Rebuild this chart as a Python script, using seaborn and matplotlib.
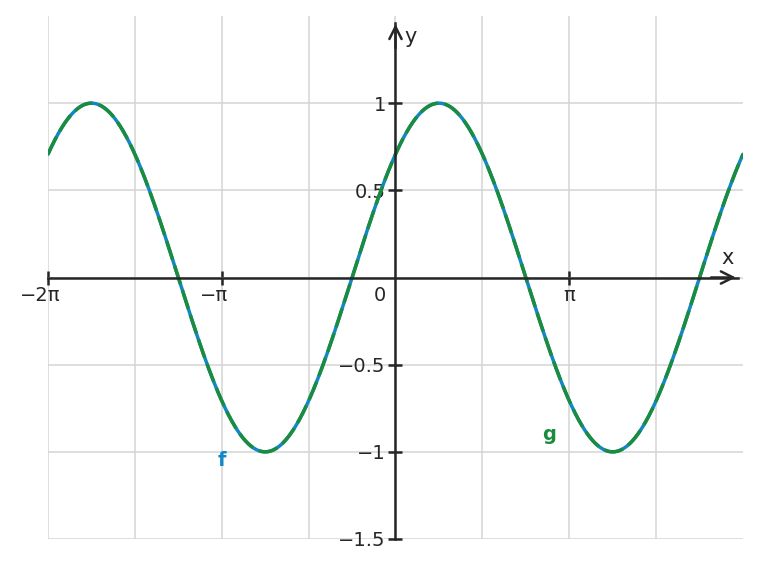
import numpy as np
import pandas as pd
import matplotlib
matplotlib.use("Agg")
import matplotlib.pyplot as plt
import matplotlib.transforms as mtransforms
import seaborn as sns

# ----------------------------
# DATA
# ----------------------------
# both curves: amplitude 1, period 2*pi, peak at x = pi/4
amplitude = 1.0
phase = np.pi / 4

x_range = (-2 * np.pi, 2 * np.pi)
y_range = (-1.5, 1.5)

x_major = [-2 * np.pi, -np.pi, np.pi]
x_labels = ["\u22122\u03c0", "\u2212\u03c0", "\u03c0"]
x_minor = [-1.5 * np.pi, -0.5 * np.pi, 0, 0.5 * np.pi, 1.5 * np.pi]

y_major = [-1.5, -1, -0.5, 0.5, 1]
y_labels = ["\u22121.5", "\u22121", "\u22120.5", "0.5", "1"]
y_minor = [0]

blue = "#1287c8"
green = "#1a8c3c"
ink = "#262626"

# curves f(x) = sin(x + pi/4) and g(x) = cos(x - pi/4), long form
xs = np.linspace(x_range[0], x_range[1], 800)
data = pd.concat([
    pd.DataFrame({"x": xs, "y": amplitude * np.sin(xs + phase), "fn": "f"}),
    pd.DataFrame({"x": xs, "y": amplitude * np.cos(xs - phase), "fn": "g"}),
], ignore_index=True)

# ----------------------------
# PLOT
# ----------------------------
sns.set_style("whitegrid")
plt.rcParams["font.family"] = ["DejaVu Sans"]
plt.rcParams["lines.scale_dashes"] = False  # dash lengths in points

fig = plt.figure(figsize=(7.61, 5.67), dpi=100)
ax = fig.add_axes([48 / 761, 28 / 567, 695 / 761, 523 / 567])

sns.lineplot(data=data, x="x", y="y", hue="fn", style="fn",
             palette={"f": blue, "g": green},
             dashes={"f": "", "g": (14, 4.6)},
             linewidth=2.5, sort=False, estimator=None, legend=False, ax=ax)

ax.set_xlim(*x_range)
ax.set_ylim(*y_range)
ax.set_xlabel("")
ax.set_ylabel("")

# axes through the origin
for side in ["top", "right"]:
    ax.spines[side].set_visible(False)
ax.spines["left"].set_position(("data", 0))
ax.spines["bottom"].set_position(("data", 0))
ax.spines["left"].set_bounds(-1.5, 1.46)
ax.spines["bottom"].set_bounds(-2 * np.pi, 1.97 * np.pi)
for side in ["left", "bottom"]:
    ax.spines[side].set_color(ink)
    ax.spines[side].set_linewidth(1.8)
    ax.spines[side].set_zorder(3)

arrow = dict(arrowstyle="->", color=ink, lw=1.8, mutation_scale=22)
ax.annotate("", xy=(1.975 * np.pi, 0), xytext=(1.8 * np.pi, 0), arrowprops=arrow, zorder=4)
ax.annotate("", xy=(0, 1.47), xytext=(0, 1.3), arrowprops=arrow, zorder=4)

# ticks and grid
ax.set_xticks(x_major)
ax.set_xticklabels(x_labels)
ax.set_xticks(x_minor, minor=True)
ax.set_yticks(y_major)
ax.set_yticklabels(y_labels)
ax.set_yticks(y_minor, minor=True)
ax.tick_params(bottom=True, left=True)
ax.tick_params(which="major", direction="inout", length=10, width=1.8,
               color=ink, labelcolor=ink, labelsize=14)
ax.tick_params(axis="x", which="major", pad=1)
ax.tick_params(axis="y", which="major", pad=2)
ax.tick_params(which="minor", length=0)
ax.grid(True, which="both", color="#d4d4d4", linewidth=1.1)
ax.set_axisbelow(True)

# let the minus sign hang to the left of the tick
shift = mtransforms.ScaledTranslation(-8 / 100, 0, fig.dpi_scale_trans)
for lab in ax.get_xticklabels():
    if lab.get_text().startswith("\u2212"):
        lab.set_transform(lab.get_transform() + shift)

# labels
ax.annotate("0", xy=(0, 0), xytext=(-7, -6), textcoords="offset points",
            ha="right", va="top", fontsize=14, color=ink)
ax.text(1.91 * np.pi, 0.11, "x", ha="center", va="center", fontsize=15, color=ink)
ax.text(0.085 * np.pi, 1.38, "y", ha="center", va="center", fontsize=15, color=ink)
ax.text(-np.pi, -1.05, "f", ha="center", va="center", fontsize=14,
        fontweight="bold", color=blue)
ax.text(0.886 * np.pi, -0.9, "g", ha="center", va="center", fontsize=14,
        fontweight="bold", color=green)

fig.savefig("out.png", dpi=100)
